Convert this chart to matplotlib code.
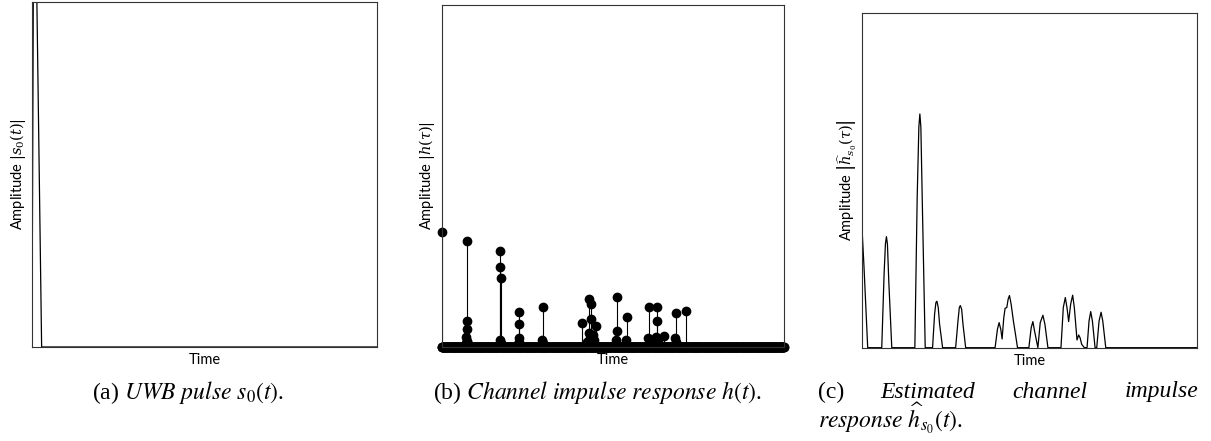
"""
UWB pulse / channel impulse response / estimated CIR — three panels.
"""
import matplotlib
matplotlib.use("Agg")
import matplotlib.pyplot as plt
import numpy as np

# ---- data (time in arbitrary units 0..100, amplitude normalised to axes height) ----
# (a) UWB pulse s0(t)
pulse_t = [0.0, 0.6, 2.8, 100.0]
pulse_amp = [0.0, 1.6, 0.0, 0.0]

# (b) channel taps h(t): (time, amplitude), several samples per cluster
tap_t = [0.0, 7.3, 7.35, 7.4, 7.25, 7.45, 7.1, 7.6, 17.1, 17.15, 17.2, 17.05, 17.25, 16.9, 17.4,
         22.5, 22.55, 22.45, 22.6, 22.3, 29.5, 29.45, 29.55, 29.3,
         41.0, 42.9, 43.7, 43.75, 45.0, 43.2, 44.3, 44.6, 42.5, 43.0, 44.0,
         51.1, 51.15, 51.05, 50.9, 54.0, 53.9,
         60.5, 62.9, 62.95, 64.9, 60.3, 61.0, 62.7, 63.2, 68.4, 68.3, 68.5, 71.4]
tap_amp = [0.335, 0.309, 0.076, 0.052, 0.03, 0.018, 0.012, 0.01, 0.280, 0.234, 0.203, 0.02, 0.012, 0.008, 0.008,
           0.102, 0.067, 0.025, 0.015, 0.01, 0.116, 0.02, 0.012, 0.008,
           0.070, 0.139, 0.127, 0.083, 0.062, 0.025, 0.035, 0.02, 0.015, 0.04, 0.03,
           0.145, 0.047, 0.02, 0.01, 0.089, 0.02,
           0.116, 0.116, 0.077, 0.033, 0.025, 0.02, 0.03, 0.02, 0.099, 0.025, 0.015, 0.106]
sample_step = 0.1  # sampling grid for the zero-valued samples

# (c) estimated CIR |h_s0(t)| — traced curve
est_t = [0.0, 0.5, 1.6,
         5.8, 6.5, 6.9, 7.2, 7.5, 7.9, 8.8,
         15.7, 16.4, 16.9, 17.2, 17.5, 17.9, 18.8,
         21.0, 21.6, 22.0, 22.3, 22.7, 23.1, 24.0,
         27.9, 28.6, 29.0, 29.3, 29.7, 30.1, 30.9,
         39.7, 40.4, 40.9, 41.4, 41.8, 42.3, 42.7, 43.2, 43.6, 44.0, 44.5, 45.2, 45.8, 46.4,
         49.8, 50.5, 51.0, 51.5, 52.5, 53.2, 54.0, 54.6, 55.5,
         59.4, 60.1, 60.7, 61.2, 61.7, 62.3, 62.9, 63.4, 64.2, 64.7, 65.1, 65.6, 66.4,
         67.2, 67.8, 68.3, 68.8, 69.6,
         70.1, 70.8, 71.4, 71.9, 72.8, 100.0]
est_amp = [0.337, 0.24, 0.0,
           0.0, 0.22, 0.31, 0.332, 0.31, 0.20, 0.0,
           0.0, 0.45, 0.66, 0.699, 0.66, 0.45, 0.0,
           0.0, 0.10, 0.135, 0.139, 0.12, 0.07, 0.0,
           0.0, 0.08, 0.12, 0.126, 0.115, 0.07, 0.0,
           0.0, 0.055, 0.075, 0.055, 0.026, 0.09, 0.118, 0.120, 0.145, 0.156, 0.13, 0.078, 0.04, 0.0,
           0.0, 0.06, 0.078, 0.05, 0.0, 0.075, 0.097, 0.07, 0.0,
           0.0, 0.12, 0.150, 0.12, 0.078, 0.13, 0.157, 0.12, 0.023, 0.038, 0.03, 0.01, 0.0,
           0.0, 0.08, 0.108, 0.08, 0.0,
           0.0, 0.08, 0.106, 0.08, 0.0, 0.0]

SERIF = ["Liberation Serif", "DejaVu Serif"]
SANS = ["Lato", "DejaVu Sans"]
plt.rcParams["mathtext.fontset"] = "stix"
plt.rcParams["font.family"] = SANS

LABEL_FS = 10.5
MS = 6

fig = plt.figure(figsize=(12.11, 4.41), dpi=100)

ax_a = fig.add_axes([0.0264, 0.2132, 0.2849, 0.7823])
ax_b = fig.add_axes([0.3647, 0.2132, 0.2827, 0.7755])
ax_c = fig.add_axes([0.7121, 0.2116, 0.2761, 0.7582])

for ax in (ax_a, ax_b, ax_c):
    ax.set_xlim(0, 100)
    ax.set_ylim(0, 1)
    ax.set_xticks([])
    ax.set_yticks([])
    for sp in ax.spines.values():
        sp.set_color("#333333")
        sp.set_linewidth(0.8)
    ax.set_xlabel("Time", fontsize=LABEL_FS, labelpad=4.5)

ylab_kw = dict(fontsize=LABEL_FS, labelpad=3, math_fontfamily="dejavuserif")

# (a)
ax_a.plot(pulse_t, pulse_amp, color="black", linewidth=0.9)
ax_a.set_ylabel(r"Amplitude $|s_0(t)|$", **ylab_kw)

# (b) zero samples on the grid + taps
grid_t = np.arange(0, 100 + sample_step / 2, sample_step)
ax_b.plot(grid_t, np.zeros_like(grid_t), "o", color="black", markersize=MS, clip_on=False)
ml, sl, bl = ax_b.stem(tap_t, tap_amp, linefmt="k-", markerfmt="ko", basefmt=" ")
ml.set_markersize(MS)
ml.set_clip_on(False)
sl.set_linewidth(0.8)
ax_b.set_ylabel(r"Amplitude $|h(\tau)|$", **ylab_kw)

# (c)
ax_c.plot(est_t, est_amp, color="black", linewidth=0.9)
ax_c.set_ylabel(r"Amplitude $\left|\widehat{h}_{s_0}(\tau)\right|$", **ylab_kw)

# captions
cap_kw = dict(fontsize=17, family=SERIF, va="center")
y1 = 1 - 392 / 441
y2 = 1 - 418 / 441
fig.text(188 / 1211, y1, r"(a) $\it{UWB\ pulse}$ $s_0(t)$.", ha="center", **cap_kw)
fig.text(597 / 1211, y1, r"(b) $\it{Channel\ impulse\ response}$ $h(t)$.",
         ha="center", **cap_kw)
fig.text(818 / 1211, y1, "(c)", ha="left", **cap_kw)
fig.text(928 / 1211, y1, "Estimated", ha="center", style="italic", **cap_kw)
fig.text(1050 / 1211, y1, "channel", ha="center", style="italic", **cap_kw)
fig.text(1198 / 1211, y1, "impulse", ha="right", style="italic", **cap_kw)
fig.text(818 / 1211, y2, r"$\it{response}$ $\widehat{h}_{s_0}(t)$.", ha="left", **cap_kw)

fig.savefig("out.png", dpi=100)
